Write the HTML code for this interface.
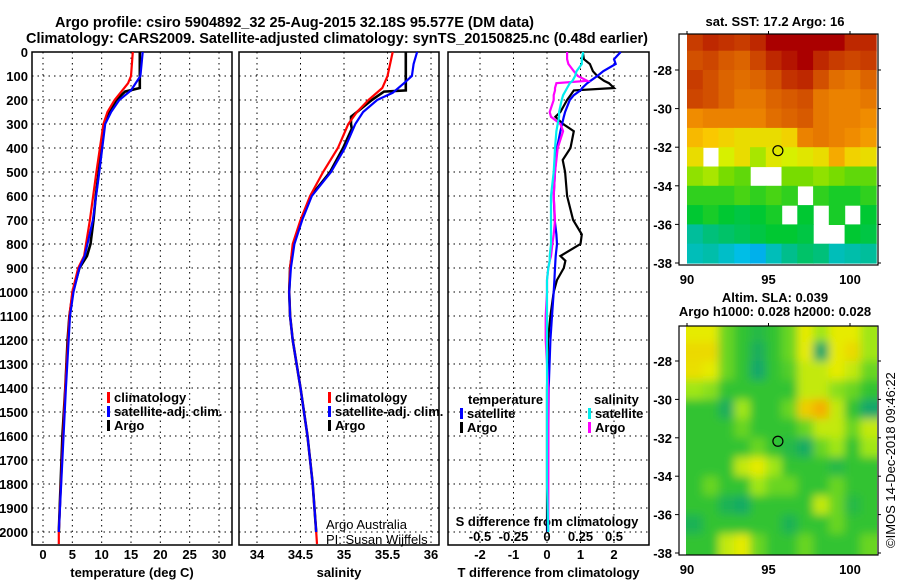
<!DOCTYPE html>
<html><head><meta charset="utf-8"><style>
body{margin:0;background:#fff;}
svg{display:block;font-family:"Liberation Sans",Arial,sans-serif;}
.t{font-weight:bold;font-size:13px;fill:#000;}
.grid{stroke:#000;stroke-width:1;stroke-dasharray:1.5,4;}
</style></head><body>
<svg id="chart" width="900" height="580" viewBox="0 0 900 580" xmlns="http://www.w3.org/2000/svg">
<g id="titles">
<text class="t" x="55" y="27" textLength="479" lengthAdjust="spacingAndGlyphs" style="font-size:15px">Argo profile: csiro 5904892_32 25-Aug-2015 32.18S 95.577E (DM data)</text>
<text class="t" x="26" y="43" textLength="622" lengthAdjust="spacingAndGlyphs" style="font-size:15px">Climatology: CARS2009. Satellite-adjusted climatology: synTS_20150825.nc (0.48d earlier)</text>
<text class="t" x="775" y="26" text-anchor="middle">sat. SST: 17.2 Argo: 16</text>
<text class="t" x="775" y="302" text-anchor="middle">Altim. SLA: 0.039</text>
<text class="t" x="775" y="316" text-anchor="middle">Argo h1000: 0.028 h2000: 0.028</text>
<text x="895" y="548" transform="rotate(-90 895 548)" style="font-size:13px">©IMOS 14-Dec-2018 09:46:22</text>
</g>
</svg>
<script>
// ---------- data ----------
const depthTicks = [0,100,200,300,400,500,600,700,800,900,1000,1100,1200,1300,1400,1500,1600,1700,1800,1900,2000];
const tempTicks = [0,5,10,15,20,25,30];
const salTicks = [34,34.5,35,35.5,36];
const tdiffTicks = [-2,-1,0,1,2];
const sdiffTicks = [-0.5,-0.25,0,0.25,0.5];
const sdiffTickLabels = ["-0.5","-0.25","0","0.25","0.5"];
const lonTicks = [90,95,100];
const latTicks = [-28,-30,-32,-34,-36,-38];

const tArgoDepth = [0,150,165,200,250,300,400,500,600,700,800,850,900,1000,1100,1200,1400,1600,1800,2000];
const tArgo      = [16.5,16.5,14,12.5,11.3,10.5,10,9.5,9,8.6,8.1,7.5,6.2,5.1,4.5,4.2,3.8,3.3,3.0,2.7];
const tClimDepth = [0,100,130,170,200,250,300,500,700,850,900,1000,1100,1400,2000,2050];
const tClim      = [15.3,15.0,14.5,13.2,12.2,11.0,10.3,9.1,8.0,7.0,6.0,5.0,4.5,3.8,2.7,2.7];
const tSatDepth  = [0,100,160,200,250,300,500,700,850,900,1000,1100,1400,2000];
const tSat       = [17.0,16.6,15.0,13.0,11.6,10.6,9.6,8.5,7.1,6.2,5.2,4.6,3.9,2.7];

const sArgoDepth = [0,160,165,200,250,270,300,320,400,500,600,700,800,900,1000,1100,1200,1400,1600,1800,2000];
const sArgo      = [35.71,35.71,35.46,35.32,35.15,35.08,35.08,35.09,34.99,34.84,34.62,34.51,34.42,34.38,34.37,34.38,34.41,34.5,34.58,34.64,34.68];
const sClimDepth = [0,100,150,200,250,300,400,500,600,700,800,900,1000,1100,1200,1400,1600,1800,2000,2050];
const sClim      = [35.56,35.5,35.44,35.28,35.15,35.05,34.93,34.76,34.61,34.5,34.41,34.38,34.37,34.38,34.41,34.5,34.58,34.64,34.68,34.69];
const sSatDepth  = [0,50,100,130,170,200,250,300,400,500,600,700,800,900,1000,1100,1200,1400,1600,1800,2000];
const sSat       = [35.84,35.8,35.78,35.69,35.56,35.38,35.22,35.13,35.01,34.85,34.63,34.52,34.43,34.39,34.37,34.38,34.41,34.5,34.58,34.64,34.68];

const dDepth   = [0,30,50,80,100,120,130,150,160,180,200,250,270,300,330,400,450,500,600,700,760,800,850,870,900,950,1000,1100,1200,1400,1600,1800,2000];
const dTArgo   = [1.07,1.1,1.28,1.37,1.5,1.7,1.85,2.0,0.8,0.7,0.6,0.4,0.25,0.48,0.8,0.7,0.47,0.54,0.6,0.78,1.04,1.0,0.4,0.55,0.5,0.3,0.2,0.1,0.03,0,0,0,0];
const dTSat    = [2.2,2.0,2.05,1.68,1.5,1.3,1.2,1.05,1.0,0.8,0.68,0.54,0.5,0.45,0.4,0.3,0.27,0.24,0.2,0.23,0.28,0.3,0.26,0.25,0.24,0.22,0.2,0.15,0.1,0.05,0.04,0.03,0.02];
const dSArgo   = [0.15,0.15,0.16,0.2,0.23,0.3,0.07,0.06,0.06,0.05,0.05,0.02,0.03,0.1,0.12,0.08,0.07,0.06,0.05,0.06,0.05,0.04,0.03,0.02,0.01,0.0,0.0,-0.01,-0.01,0.01,0.01,0.01,0.01];
const dSSat    = [0.27,0.26,0.26,0.22,0.21,0.19,0.17,0.15,0.14,0.12,0.11,0.09,0.09,0.08,0.07,0.06,0.055,0.05,0.03,0.03,0.03,0.03,0.02,0.02,0.01,0.0,0.0,0.0,0.0,0.0,0.0,0.0,0.01];

const sstGrid = [
[18.6,18.8,18.7,18.6,18.8,19,19,19,19,19,18.8,18.8],
[18.4,18.5,18.3,18.2,18.5,18.8,18.9,19,18.8,18.6,18.5,18.6],
[18.6,18.4,18.2,18.1,18.2,18.4,18.7,18.8,18.4,18.1,18.0,18.2],
[18.5,18.4,18.2,18.0,18.0,18.2,18.3,18.4,18.0,17.9,17.9,18.0],
[17.8,17.9,17.9,17.9,17.9,18.1,18.2,18.3,18.0,17.9,17.9,17.8],
[17.5,17.4,17.3,17.2,17.2,17.2,17.3,17.9,18.0,17.9,17.8,17.7],
[17.2,null,17.0,17.2,16.8,17.1,17.0,17.1,17.2,17.6,17.3,17.2],
[16.7,16.8,16.6,16.5,null,null,16.6,16.6,16.7,16.6,16.5,16.5],
[16.3,16.3,16.3,16.4,16.3,16.4,16.3,null,16.3,16.2,16.2,16.3],
[16.1,16.2,16.1,16.0,16.1,16.2,null,16.1,null,16.2,null,16.1],
[15.5,15.7,15.8,15.9,16,16.1,16.1,16.0,null,null,16.1,16.0],
[15.3,15.4,15.2,15.0,14.9,15.3,15.6,15.8,15.7,15.3,15.4,15.5]];
const slaGrid = [
[2,2,0.5,0,-0.3,0,0.5,2,1,2,2,1],
[2.3,2.3,0.5,0,-0.6,0,0.5,2,-0.8,2,2.3,1],
[2.2,2,0.5,0,-0.8,0,0.3,1.5,1.5,2,1.5,0.5],
[1,0.8,0,0,0,0,0,1.5,1.5,0.8,0.5,0],
[0,0,-0.6,1,0,0,0.5,2.5,3,1.5,0,-0.8],
[0,0,0,0.5,0,0,0,0.5,1.5,1.5,0.5,1.5],
[0,0,0,0,0.5,0,-0.3,-0.7,0.5,1,0,1],
[0,0,0,1.5,2,1,0,0,0,-0.3,0,0],
[0,0.5,0,0,1,0.5,0.5,0,0,0.5,0,0],
[0,0,-0.5,-0.7,0,0,0,0,1.5,0.5,-0.3,0],
[-0.5,0,0,0,0,0,-0.5,0,0,0.5,0,0],
[0,0,1.5,2,0.5,0,0,0.5,0,0,0,0.5]];
const floatLon = 95.577, floatLat = -32.18;

// ---------- helpers ----------
const svg = document.getElementById('chart');
const NS = 'http://www.w3.org/2000/svg';
function mk(tag, attrs, parent){const e=document.createElementNS(NS,tag);for(const k in attrs)e.setAttribute(k,attrs[k]);(parent||svg).appendChild(e);return e;}
const TOP=52, BOT=545;
const yD = d => TOP + d*0.24;
function lin(d0,d1,r0,r1){return v=>r0+(v-d0)*(r1-r0)/(d1-d0);}

function panel(name,x0,x1,xs,ticks,labels,title){
  const g=mk('g',{});
  
  
  ticks.forEach(t=>{const l=mk('line',{x1:xs(t),x2:xs(t),y1:TOP,y2:BOT,class:'grid'},g);});
  depthTicks.forEach(d=>{mk('line',{x1:x0,x2:x1,y1:yD(d),y2:yD(d),class:'grid'},g);});
  const f=mk('rect',{x:x0,y:TOP,width:x1-x0,height:BOT-TOP,fill:'none',stroke:'#000','stroke-width':1.5},g);
  
  
  if(labels){ticks.forEach((t,i)=>{const tx=mk('text',{x:xs(t),y:559,'text-anchor':'middle',class:'t'},g);tx.textContent=labels[i];
    
    });}
  if(title){const tt=mk('text',{x:(x0+x1)/2,y:577,'text-anchor':'middle',class:'t'},g);tt.textContent=title;
    
    }
  return g;
}
function series(g,name,xs,vals,depths,color,w){
  const pts=vals.map((v,i)=>xs(v).toFixed(1)+','+yD(depths[i]).toFixed(1)).join(' ');
  const p=mk('polyline',{points:pts,fill:'none',stroke:color,'stroke-width':w||2.2,'stroke-linejoin':'miter'},g);
  
  
}
function legend(g,x,y,items){
  items.forEach((it,i)=>{
    const r=mk('rect',{x:x,y:y+i*14-10,width:3,height:11,fill:it[1]},g);
    
    
    const t=mk('text',{x:x+7,y:y+i*14,class:'t'},g);t.textContent=it[0];
    
    
  });
}

// y axis labels
depthTicks.forEach(d=>{const t=mk('text',{x:28,y:yD(d)+5,'text-anchor':'end',class:'t'});t.textContent=d;
  
  });

// panel 1 temperature
const xT=lin(0,30,43,219);
const g1=panel('temperature-panel',32,232,xT,tempTicks,tempTicks.map(String),'temperature (deg C)');
series(g1,'temp-argo-line',xT,tArgo,tArgoDepth,'#000',2.6);
series(g1,'temp-climatology-line',xT,tClim,tClimDepth,'#f00');
series(g1,'temp-satellite-line',xT,tSat,tSatDepth,'#00f');
legend(g1,107,402,[['climatology','#f00'],['satellite-adj. clim.','#00f'],['Argo','#000']]);

// panel 2 salinity
const xS=lin(34,36,257,431);
const g2=panel('salinity-panel',239,439,xS,salTicks,salTicks.map(String),'salinity');
series(g2,'sal-argo-line',xS,sArgo,sArgoDepth,'#000',2.6);
series(g2,'sal-climatology-line',xS,sClim,sClimDepth,'#f00');
series(g2,'sal-satellite-line',xS,sSat,sSatDepth,'#00f');
legend(g2,328,402,[['climatology','#f00'],['satellite-adj. clim.','#00f'],['Argo','#000']]);
[['Argo Australia',530],['PI: Susan Wijffels',545]].forEach(a=>{const t=mk('text',{x:326,y:a[1]-1,style:'font-size:13px'},g2);t.textContent=a[0];
  
  });

// panel 3 differences
const xDT=lin(0,2,547,614), xDS=lin(0,0.5,547,614);
const g3=panel('difference-panel',448,649,xDT,tdiffTicks,tdiffTicks.map(String),'T difference from climatology');
sdiffTicks.forEach((t,i)=>{const tx=mk('text',{x:xDS(t),y:541,'text-anchor':'middle',class:'t'},g3);tx.textContent=sdiffTickLabels[i];
  
  });
{const tx=mk('text',{x:547,y:526,'text-anchor':'middle',class:'t'},g3);tx.textContent='S difference from climatology';
  
  }
series(g3,'tdiff-argo-line',xDT,dTArgo,dDepth,'#000');
series(g3,'tdiff-satellite-line',xDT,dTSat,dDepth,'#00f');
series(g3,'sdiff-argo-line',xDS,dSArgo,dDepth,'#f0f');
series(g3,'sdiff-satellite-line',xDS,dSSat,dDepth,'#0ee');
{const t=mk('text',{x:468,y:404,class:'t'},g3);t.textContent='temperature';
  
  
 const s=mk('text',{x:594,y:404,class:'t'},g3);s.textContent='salinity';
  
  }
legend(g3,460,418,[['satellite','#00f'],['Argo','#000']]);
legend(g3,588,418,[['satellite','#0ee'],['Argo','#f0f']]);

// ---------- maps ----------
function sstColor(v){
  const stops=[[14.5,[0,120,255]],[15.0,[0,190,230]],[15.6,[0,190,140]],[16.1,[0,200,50]],[16.6,[120,220,0]],[17.0,[215,240,0]],[17.4,[250,200,0]],[17.8,[240,140,0]],[18.3,[215,90,0]],[18.8,[190,40,0]],[19.0,[170,0,0]]];
  return ramp(stops,v);
}
function slaColor(v){
  const stops=[[-1,[10,160,120]],[0,[50,195,50]],[1,[160,230,20]],[2,[230,235,0]],[3,[245,175,0]]];
  return ramp(stops,v);
}
function ramp(stops,v){
  if(v<=stops[0][0])return 'rgb('+stops[0][1]+')';
  for(let i=1;i<stops.length;i++){if(v<=stops[i][0]){const a=stops[i-1],b=stops[i],f=(v-a[0])/(b[0]-a[0]);
    return 'rgb('+a[1].map((c,k)=>Math.round(c+(b[1][k]-c)*f)).join(',')+')';}}
  return 'rgb('+stops[stops.length-1][1]+')';
}
function map(name,top,bot,lat28,lat38,grid,colorFn,blur){
  const xL=lin(90,100,687,850), yL=lin(-28,-38,lat28,lat38);
  const g=mk('g',{});
  
  
  const cid=name+'-clip';
  const defs=mk('defs',{},g);
  const cp=mk('clipPath',{id:cid},defs);mk('rect',{x:686,y:top,width:191,height:bot-top},cp);
  if(blur){const f=mk('filter',{id:name+'-blur',x:'-10%',y:'-10%',width:'120%',height:'120%'},defs);mk('feGaussianBlur',{stdDeviation:4.5},f);}
  const cg=mk('g',{'clip-path':'url(#'+cid+')'},g);
  const hg=mk('g',blur?{filter:'url(#'+name+'-blur)'}:{},cg);
  const lat0=-26, lon0=90, dLon=(101.6-90)/12;
  grid.forEach((row,r)=>row.forEach((v,c)=>{
    if(v===null)return;
    const x0=xL(lon0+c*dLon)-(blur?12:0), x1=xL(lon0+(c+1)*dLon)+(blur&&c==11?12:0);
    const y0=yL(lat0-r)-(blur&&r==0?12:0), y1=yL(lat0-r-1)+(blur&&r==11?12:0);
    const cell=mk('rect',{x:(blur&&c==0?x0:xL(lon0+c*dLon)).toFixed(1),y:y0.toFixed(1),width:(x1-(blur&&c==0?x0:xL(lon0+c*dLon))+0.6).toFixed(1),height:(y1-y0+0.6).toFixed(1),fill:colorFn(v)},hg);
    
    
  }));
  const fr=mk('rect',{x:679,y:top,width:199,height:bot-top,fill:'none',stroke:'#000','stroke-width':1.2},g);
  
  
  lonTicks.forEach(t=>{mk('line',{x1:xL(t),x2:xL(t),y1:top,y2:top-3,stroke:'#000'},g);
    const tx=mk('text',{x:xL(t),y:bot+19,'text-anchor':'middle',class:'t'},g);tx.textContent=t;
    
    });
  latTicks.forEach(t=>{mk('line',{x1:878,x2:881,y1:yL(t),y2:yL(t),stroke:'#000'},g);mk('line',{x1:675,x2:679,y1:yL(t),y2:yL(t),stroke:'#000'},g);
    const tx=mk('text',{x:672,y:yL(t)+5,'text-anchor':'end',class:'t'},g);tx.textContent=t;
    
    });
  const c=mk('circle',{cx:xL(floatLon),cy:yL(floatLat),r:5,fill:'none',stroke:'#000','stroke-width':1.2},g);
  
  
}
map('sst-map',34,265,70,263,sstGrid,sstColor,false);
map('sla-map',326,555,361,553,slaGrid,slaColor,true);
</script>
</body></html>
